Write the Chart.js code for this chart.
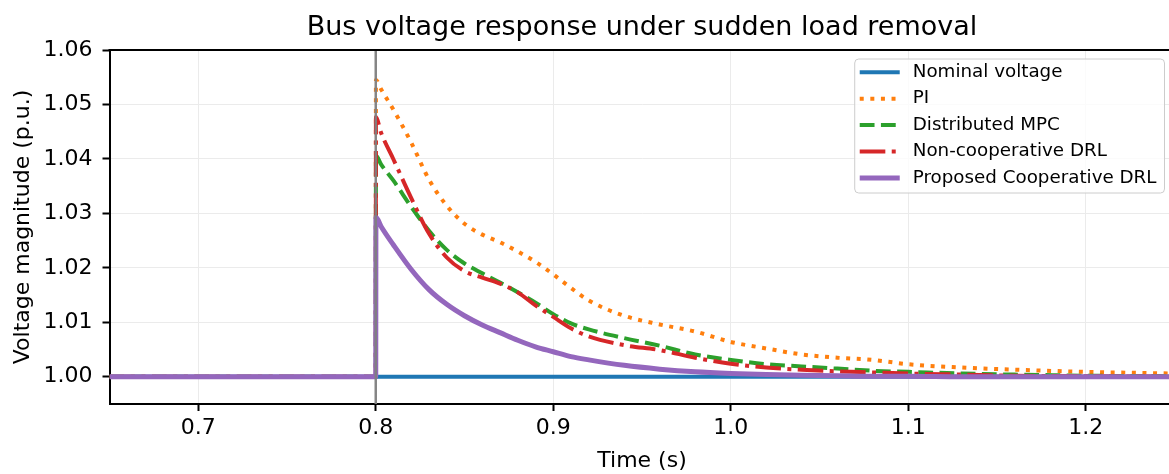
<!DOCTYPE html>
<html>
<head>
<meta charset="utf-8">
<title>Bus voltage response under sudden load removal</title>
<script src="https://cdn.jsdelivr.net/npm/chart.js@4.4.1/dist/chart.umd.min.js"></script>
<style>
  html, body { margin: 0; padding: 0; background: #fff; overflow: hidden; }
  canvas { display: block; }
</style>
</head>
<body>
<canvas id="voltageChart" width="1180" height="474"></canvas>
<script>
// time samples (s) - step happens at 0.8 s
const timeSec = [0.65, 0.8, 0.8001, 0.803, 0.81, 0.82, 0.83, 0.84, 0.85, 0.86, 0.87, 0.88, 0.89, 0.90,
    0.91, 0.92, 0.94, 0.96, 0.98, 1.00, 1.02, 1.04, 1.06, 1.08, 1.10, 1.13, 1.16, 1.20, 1.25];

// nominal reference line
const nominalTime = [0.65, 1.25];
const nominalVoltage = [1.0, 1.0];

// bus voltage (p.u.) for each controller
const piVoltage = [1.0, 1.0, 1.0545, 1.0528, 1.0490, 1.0430, 1.0362, 1.0314, 1.0281, 1.0261, 1.0247, 1.0230, 1.0211, 1.0188,
    1.0163, 1.0140, 1.0112, 1.0096, 1.0083, 1.0064, 1.0052, 1.0041, 1.0035, 1.0031, 1.0023, 1.0017, 1.0013, 1.0009, 1.0006];
const mpcVoltage = [1.0, 1.0, 1.0406, 1.0390, 1.0360, 1.0312, 1.0268, 1.0233, 1.0208, 1.0190, 1.0173, 1.0155, 1.0136, 1.0115,
    1.0098, 1.0087, 1.0071, 1.0057, 1.0041, 1.0031, 1.0023, 1.0019, 1.0015, 1.0011, 1.0009, 1.0006, 1.0004, 1.0002, 1.0001];
const drlVoltage = [1.0, 1.0, 1.0477, 1.0448, 1.0399, 1.0328, 1.0263, 1.0219, 1.0194, 1.0182, 1.0171, 1.0155, 1.0131, 1.0110,
    1.0089, 1.0074, 1.0058, 1.0049, 1.0035, 1.0024, 1.0017, 1.0013, 1.0010, 1.0008, 1.0006, 1.0004, 1.0002, 1.0001, 1.0];
const coopVoltage = [1.0, 1.0, 1.0293, 1.0276, 1.0242, 1.0197, 1.0160, 1.0133, 1.0112, 1.0095, 1.0081, 1.0067, 1.0055, 1.0046,
    1.0037, 1.0031, 1.0021, 1.0014, 1.0009, 1.0006, 1.0004, 1.0003, 1.0002, 1.0001, 1.0001, 1.0, 1.0, 1.0, 1.0];

// axes
const xTicks = [0.7, 0.8, 0.9, 1.0, 1.1, 1.2];
const yTicks = [1.00, 1.01, 1.02, 1.03, 1.04, 1.05, 1.06];
const stepTime = 0.8;

Chart.defaults.font.family = '"DejaVu Sans", sans-serif';
Chart.defaults.color = '#000';

function toPoints(ts, vs) {
    return ts.map((t, i) => ({ x: t, y: vs[i] }));
}

// top spine + step marker line
const framePlugin = {
    id: 'frame',
    afterDatasetsDraw(chart) {
        const { ctx, chartArea, scales } = chart;
        const xs = scales.x.getPixelForValue(stepTime);
        ctx.save();
        ctx.strokeStyle = 'rgba(128,128,128,0.95)';
        ctx.lineWidth = 2.5;
        ctx.beginPath();
        ctx.moveTo(xs, chartArea.top);
        ctx.lineTo(xs, chartArea.bottom);
        ctx.stroke();
        ctx.strokeStyle = '#000';
        ctx.lineWidth = 2;
        ctx.beginPath();
        ctx.moveTo(chartArea.left - 1, chartArea.top);
        ctx.lineTo(chartArea.right + 1, chartArea.top);
        ctx.stroke();
        ctx.restore();
    }
};

// legend inside the axes, upper right (like matplotlib)
const insideLegend = {
    id: 'insideLegend',
    afterDraw(chart) {
        const { ctx, chartArea } = chart;
        const items = chart.data.datasets;
        ctx.save();
        ctx.font = '18.3px "DejaVu Sans"';
        const textW = Math.max(...items.map(d => ctx.measureText(d.label).width));
        const w = 58 + textW + 8;
        const h = 134;
        const x0 = chartArea.right - 10 - w;
        const y0 = chartArea.top + 9;
        ctx.beginPath();
        ctx.roundRect(x0, y0, w, h, 4);
        ctx.fillStyle = 'rgba(255,255,255,0.8)';
        ctx.fill();
        ctx.strokeStyle = '#cccccc';
        ctx.lineWidth = 1;
        ctx.stroke();
        items.forEach((d, i) => {
            const y = y0 + 13.3 + i * 26.4;
            ctx.beginPath();
            ctx.setLineDash(d.borderDash || []);
            ctx.lineWidth = d.borderWidth;
            ctx.strokeStyle = d.borderColor;
            ctx.lineCap = 'butt';
            ctx.moveTo(x0 + 5, y);
            ctx.lineTo(x0 + 45, y);
            ctx.stroke();
            ctx.setLineDash([]);
            ctx.fillStyle = '#000';
            ctx.textBaseline = 'middle';
            ctx.textAlign = 'left';
            ctx.fillText(d.label, x0 + 58, y);
        });
        ctx.restore();
    }
};

const ctx = document.getElementById('voltageChart').getContext('2d');
const voltageChart = new Chart(ctx, {
    type: 'line',
    data: {
        datasets: [
            {
                label: 'Nominal voltage',
                data: toPoints(nominalTime, nominalVoltage),
                borderColor: '#1f77b4', borderWidth: 4, order: 4
            },
            {
                label: 'PI',
                data: toPoints(timeSec, piVoltage),
                borderColor: '#ff7f0e', borderWidth: 4, borderDash: [4, 6.6], order: 3
            },
            {
                label: 'Distributed MPC',
                data: toPoints(timeSec, mpcVoltage),
                borderColor: '#2ca02c', borderWidth: 4, borderDash: [14.8, 6.4], order: 2
            },
            {
                label: 'Non-cooperative DRL',
                data: toPoints(timeSec, drlVoltage),
                borderColor: '#d62728', borderWidth: 4, borderDash: [25.6, 6.4, 4, 6.4], order: 1
            },
            {
                label: 'Proposed Cooperative DRL',
                data: toPoints(timeSec, coopVoltage),
                borderColor: '#9467bd', borderWidth: 5, order: 0
            }
        ]
    },
    options: {
        responsive: false,
        animation: false,
        layout: { padding: { left: 0, right: 5.5, top: 0, bottom: 0 } },
        elements: {
            point: { radius: 0 },
            line: { cubicInterpolationMode: 'monotone', borderCapStyle: 'butt', borderJoinStyle: 'round', fill: false }
        },
        plugins: {
            legend: { display: false },
            tooltip: { enabled: false },
            title: {
                display: true,
                fullSize: false,
                text: 'Bus voltage response under sudden load removal',
                color: '#000',
                font: { size: 27, weight: 'normal' },
                padding: { top: 11.8, bottom: 5.8 }
            }
        },
        scales: {
            x: {
                type: 'linear',
                min: 0.65,
                max: 1.25,
                afterBuildTicks: s => { s.ticks = xTicks.map(v => ({ value: v })); },
                afterFit: s => { s.height = 70; },
                ticks: { font: { size: 22 }, padding: 4, maxRotation: 0, callback: v => v.toFixed(1) },
                grid: { color: '#ebebeb', lineWidth: 1, tickColor: '#000', tickLength: 7, tickWidth: 2 },
                border: { color: '#000', width: 2 },
                title: { display: true, text: 'Time (s)', font: { size: 22 }, padding: { top: 0, bottom: 0 } }
            },
            y: {
                type: 'linear',
                min: 0.995,
                max: 1.06,
                afterBuildTicks: s => { s.ticks = yTicks.map(v => ({ value: v })); },
                afterFit: s => { s.width = 109.5; },
                ticks: { font: { size: 22 }, padding: 10, callback: v => v.toFixed(2) },
                grid: { color: '#ebebeb', lineWidth: 1, tickColor: '#000', tickLength: 7, tickWidth: 2 },
                border: { color: '#000', width: 2 },
                title: { display: true, text: 'Voltage magnitude (p.u.)', font: { size: 22 }, padding: { top: 10, bottom: 0 } }
            }
        }
    },
    plugins: [framePlugin, insideLegend]
});
</script>
</body>
</html>
